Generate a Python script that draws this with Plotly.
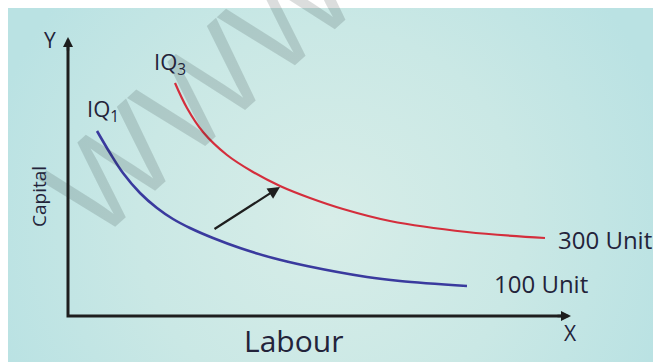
import base64
import plotly.graph_objects as go

# Isoquant curves: labour (x) against capital (y)
iq1_labour = [0.58, 0.84, 1.10, 1.44, 1.78, 2.10, 2.44, 2.90, 3.44, 4.10, 4.78, 5.98, 6.64, 7.98]
iq1_capital = [3.70, 3.26, 2.86, 2.46, 2.16, 1.94, 1.76, 1.56, 1.36, 1.16, 1.00, 0.78, 0.70, 0.60]

iq3_labour = [2.14, 2.38, 2.70, 3.18, 3.70, 4.24, 4.84, 5.50, 6.44, 7.98, 9.54]
iq3_capital = [4.66, 4.16, 3.68, 3.22, 2.88, 2.60, 2.36, 2.14, 1.90, 1.68, 1.56]

# Shift arrow from the lower isoquant to the higher one
shift_from = (2.90, 1.72)
shift_to = (4.24, 2.58)

x_axis_end = 10.06
y_axis_end = 5.58

curve_labels = ["IQ<sub>1</sub>", "IQ<sub>3</sub>"]
output_labels = ["100 Unit", "300 Unit"]

W, H = 653, 362
TEXT = "#23233a"
FONT = "Open Sans"

bg_svg = (
    "<svg xmlns='http://www.w3.org/2000/svg' width='653' height='362'>"
    "<defs><radialGradient id='g' cx='330' cy='220' r='350' gradientUnits='userSpaceOnUse'>"
    "<stop offset='0' stop-color='#d7ede8'/><stop offset='0.55' stop-color='#cae8e5'/>"
    "<stop offset='1' stop-color='#bae2e3'/></radialGradient></defs>"
    "<rect width='653' height='362' fill='#ffffff'/>"
    "<rect x='8' y='8' width='645' height='354' fill='url(#g)'/></svg>"
)
bg_uri = "data:image/svg+xml;base64," + base64.b64encode(bg_svg.encode()).decode()

fig = go.Figure()

fig.add_trace(go.Scatter(
    x=iq1_labour, y=iq1_capital, mode="lines",
    line=dict(color="#3a3a9e", width=2.6, shape="spline", smoothing=1.0),
    hoverinfo="skip", showlegend=False,
))
fig.add_trace(go.Scatter(
    x=iq3_labour, y=iq3_capital, mode="lines",
    line=dict(color="#d42e3c", width=2.2, shape="spline", smoothing=1.0),
    hoverinfo="skip", showlegend=False,
))

# Axes drawn as an L-shaped path
fig.add_shape(
    type="path",
    path=f"M 0,{y_axis_end - 0.1} L 0,0 L {x_axis_end - 0.1},0",
    line=dict(color="#1e1e1e", width=3),
    xref="x", yref="y",
)

annotations = []

# faint diagonal watermark, drawn first so everything sits on top of it
annotations.append(dict(x=2.64, y=4.52, xref="x", yref="y", text="WWW",
                        showarrow=False, textangle=-42,
                        font=dict(family="Liberation Sans", size=128,
                                  color="rgba(30,45,45,0.16)")))

# arrowheads on the axes
annotations.append(dict(x=0, y=y_axis_end, ax=0, ay=y_axis_end - 0.3,
                        xref="x", yref="y", axref="x", ayref="y", text="",
                        showarrow=True, arrowhead=2, arrowsize=0.8, arrowwidth=2.5,
                        arrowcolor="#1e1e1e"))
annotations.append(dict(x=x_axis_end, y=0, ax=x_axis_end - 0.3, ay=0,
                        xref="x", yref="y", axref="x", ayref="y", text="",
                        showarrow=True, arrowhead=2, arrowsize=0.8, arrowwidth=2.5,
                        arrowcolor="#1e1e1e"))
# shift arrow
annotations.append(dict(x=shift_to[0], y=shift_to[1], ax=shift_from[0], ay=shift_from[1],
                        xref="x", yref="y", axref="x", ayref="y", text="",
                        showarrow=True, arrowhead=2, arrowsize=1.1, arrowwidth=2.2,
                        arrowcolor="#1e1e1e"))


def label(text, x, y, size, xanchor="center", angle=0):
    annotations.append(dict(x=x, y=y, xref="x", yref="y", text=text, showarrow=False,
                            xanchor=xanchor, yanchor="middle", textangle=angle,
                            font=dict(family=FONT, size=size, color=TEXT)))


label("Y", -0.36, 5.52, 21)
label("X", 10.04, -0.34, 21)
label("Labour", 4.50, -0.48, 30)
label("Capital", -0.58, 2.38, 19, angle=-90)
label(curve_labels[0], 0.70, 4.12, 22)
label(curve_labels[1], 2.04, 5.06, 22)
label(output_labels[1], 9.76, 1.54, 24, xanchor="left")
label(output_labels[0], 8.48, 0.66, 24, xanchor="left")

fig.update_layout(
    width=W, height=H,
    margin=dict(l=0, r=0, t=0, b=0),
    paper_bgcolor="#ffffff",
    plot_bgcolor="rgba(0,0,0,0)",
    images=[dict(source=bg_uri, xref="paper", yref="paper", x=0, y=1,
                 sizex=1, sizey=1, sizing="stretch", layer="below",
                 xanchor="left", yanchor="top")],
    xaxis=dict(range=[-68 / 50, (W - 68) / 50], visible=False, fixedrange=True),
    yaxis=dict(range=[(316 - H) / 50, 316 / 50], visible=False, fixedrange=True),
    annotations=annotations,
)

fig.write_html("out.html")
